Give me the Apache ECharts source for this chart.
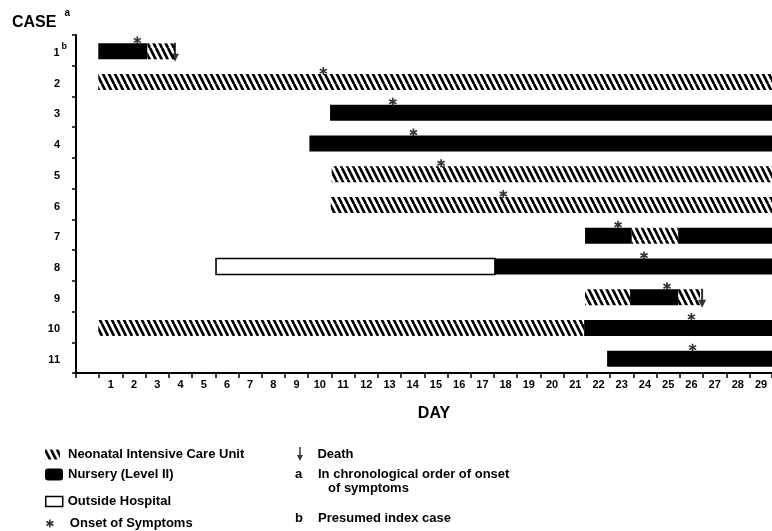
<!DOCTYPE html>
<html>
<head>
<meta charset="utf-8">
<script src="https://cdn.jsdelivr.net/npm/echarts@6/dist/echarts.min.js"></script>
<style>html,body{margin:0;padding:0;background:#fff}#c{width:772px;height:531px}</style>
</head>
<body>
<div id="c"></div>
<script>
// ---- data ----
const cases = ['1','2','3','4','5','6','7','8','9','10','11'];
const dayLabels = ['', '1','2','3','4','5','6','7','8','9','10','11','12','13','14','15','16','17','18','19','20','21','22','23','24','25','26','27','28','29'];
// [case index, start day position, end day position]
const nicuSegments = [
  [0, 3.07, 4.26], [1, 0.96, 30], [4, 11.01, 30], [5, 10.97, 30],
  [6, 23.93, 25.93], [8, 21.92, 23.86], [8, 25.93, 26.87], [9, 0.96, 21.88]
];
const nurserySegments = [
  [0, 0.96, 3.07], [2, 10.94, 30], [3, 10.05, 30], [6, 21.92, 23.93],
  [6, 25.93, 30], [7, 18.04, 30], [8, 23.86, 25.93], [9, 21.88, 30], [10, 22.87, 30]
];
const outsideSegments = [[7, 6.03, 18.04]];
// [day position, case index]
const onsetPoints = [
  [2.64, 0], [10.65, 1], [13.64, 2], [14.53, 3], [15.72, 4], [18.40, 5],
  [23.34, 6], [24.46, 7], [25.45, 8], [26.50, 9], [26.55, 10]
];
const deathPoints = [[4.26, 0], [26.96, 8]];

// ---- styles ----
const FONT = "'Liberation Sans', Arial, sans-serif";
function makeHatch() {
  const w = 6, h = 12;
  const cv = document.createElement('canvas');
  cv.width = w; cv.height = h;
  const ctx = cv.getContext('2d');
  ctx.fillStyle = '#fff'; ctx.fillRect(0, 0, w, h);
  ctx.strokeStyle = '#000'; ctx.lineWidth = 2.7;
  for (const x0 of [-w, 0, w]) {
    ctx.beginPath(); ctx.moveTo(x0, 0); ctx.lineTo(x0 + w, h); ctx.stroke();
  }
  return {image: cv, repeat: 'repeat'};
}
const hatch = makeHatch();
const ASTERISK = 'path://M4,0H6V10H4Z M0.17,3.37L1.17,1.63L9.83,6.63L8.83,8.37Z M8.83,1.63L9.83,3.37L1.17,8.37L0.17,6.63Z';
const ARROW = 'path://M3,0H5V11H8L4,19L0,11H3Z';

function segRenderer(styleFn) {
  return function (params, api) {
    const row = api.value(0);
    const p1 = api.coord([api.value(1), row]);
    const p2 = api.coord([api.value(2), row]);
    const h = api.size([0, 1])[1] * 0.52;
    return {
      type: 'rect',
      shape: {x: p1[0], y: p1[1] - h / 2 + 1, width: p2[0] - p1[0], height: h},
      style: styleFn()
    };
  };
}

const chart = echarts.init(document.getElementById('c'), null, {renderer: 'canvas'});
const legendText = {fontSize: 13, fontWeight: 'bold', color: '#000', fontFamily: FONT};

chart.setOption({
  animation: false,
  backgroundColor: '#fff',
  title: {
    left: 12, top: 8, padding: 0,
    text: '{m|CASE}{s|a}',
    textStyle: {
      rich: {
        m: {fontSize: 16, fontWeight: 'bold', color: '#000', fontFamily: FONT, padding: [6.5, 0, 0, 0]},
        s: {fontSize: 10, fontWeight: 'bold', color: '#000', fontFamily: FONT, verticalAlign: 'top', padding: [0, 0, 0, 8]}
      }
    }
  },
  grid: {left: 76, right: 0, top: 35, bottom: 158, containLabel: false, outerBoundsMode: 'none'},
  xAxis: {
    type: 'value', min: 0, max: 29.97, interval: 1,
    name: 'DAY', nameLocation: 'middle', nameGap: 33,
    nameTextStyle: {fontSize: 16, fontWeight: 'bold', color: '#000', fontFamily: FONT, padding: [0, 0, 0, 20]},
    axisLine: {show: true, lineStyle: {color: '#000', width: 2}},
    axisTick: {show: true, length: 5, lineStyle: {color: '#000', width: 1.5}},
    splitLine: {show: false},
    axisLabel: {
      margin: 6, fontSize: 11, fontWeight: 'bold', color: '#000', fontFamily: FONT,
      padding: [0, 0, 0, 23.2],
      formatter: v => dayLabels[Math.round(v)] || ''
    }
  },
  yAxis: {
    type: 'category', data: cases, inverse: true,
    axisLine: {show: true, lineStyle: {color: '#000', width: 2}},
    axisTick: {show: true, length: 4, lineStyle: {color: '#000', width: 1.5}},
    splitLine: {show: false},
    axisLabel: {
      margin: 9,
      formatter: v => v === '1' ? '{n|1}{s|b}' : '{n|' + v + '}{g|}',
      rich: {
        n: {fontSize: 11, fontWeight: 'bold', color: '#000', fontFamily: FONT, padding: [5, 0, 0, 0]},
        s: {fontSize: 9, fontWeight: 'bold', color: '#000', fontFamily: FONT, verticalAlign: 'top', padding: [0, 0, 0, 2]},
        g: {width: 7}
      }
    }
  },
  legend: [
    {left: 45, top: 448, padding: 0, itemWidth: 15, itemHeight: 10, icon: 'rect', data: ['Neonatal Intensive Care Unit'], textStyle: Object.assign({padding: [0, 0, 0, 3]}, legendText), selectedMode: false},
    {left: 45, top: 468, padding: 0, itemWidth: 18, itemHeight: 12, icon: 'roundRect', data: ['Nursery (Level II)'], textStyle: legendText, selectedMode: false},
    {left: 45, top: 495, padding: 0, itemWidth: 17, itemHeight: 10, icon: 'rect', data: ['Outside Hospital'], textStyle: legendText, selectedMode: false,
     itemStyle: {color: '#fff', borderColor: '#000', borderWidth: 1.5}},
    {left: 46, top: 517, padding: 0, itemWidth: 8, itemHeight: 8, data: ['Onset of Symptoms'], textStyle: Object.assign({padding: [0, 0, 0, 11]}, legendText), selectedMode: false},
    {left: 297, top: 447, padding: 0, itemWidth: 7, itemHeight: 14, data: ['Death'], textStyle: Object.assign({padding: [0, 0, 0, 9]}, legendText), selectedMode: false}
  ],
  graphic: [
    {type: 'text', left: 295, top: 468, style: {text: 'a', font: 'bold 13px ' + FONT, fill: '#000'}},
    {type: 'text', left: 318, top: 468, style: {text: 'In chronological order of onset', font: 'bold 13px ' + FONT, fill: '#000'}},
    {type: 'text', left: 328, top: 482, style: {text: 'of symptoms', font: 'bold 13px ' + FONT, fill: '#000'}},
    {type: 'text', left: 295, top: 512, style: {text: 'b', font: 'bold 13px ' + FONT, fill: '#000'}},
    {type: 'text', left: 318, top: 512, style: {text: 'Presumed index case', font: 'bold 13px ' + FONT, fill: '#000'}}
  ],
  series: [
    {
      name: 'Neonatal Intensive Care Unit', type: 'custom', clip: true,
      itemStyle: {color: hatch},
      encode: {x: [1, 2], y: 0},
      data: nicuSegments,
      renderItem: segRenderer(() => ({fill: hatch}))
    },
    {
      name: 'Nursery (Level II)', type: 'custom', clip: true,
      itemStyle: {color: '#000'},
      encode: {x: [1, 2], y: 0},
      data: nurserySegments,
      renderItem: segRenderer(() => ({fill: '#000'}))
    },
    {
      name: 'Outside Hospital', type: 'custom', clip: true,
      itemStyle: {color: '#fff', borderColor: '#000', borderWidth: 1.5},
      encode: {x: [1, 2], y: 0},
      data: outsideSegments,
      renderItem: segRenderer(() => ({fill: '#fff', stroke: '#000', lineWidth: 1.6}))
    },
    {
      name: 'Onset of Symptoms', type: 'scatter', symbol: ASTERISK, symbolSize: 8,
      symbolOffset: [0, -10], itemStyle: {color: '#000'}, z: 5,
      data: onsetPoints
    },
    {
      name: 'Death', type: 'scatter', symbol: ARROW, symbolSize: [8, 19],
      symbolOffset: [0, 2], itemStyle: {color: '#000'}, z: 6,
      data: deathPoints
    }
  ]
});
</script>
</body>
</html>
